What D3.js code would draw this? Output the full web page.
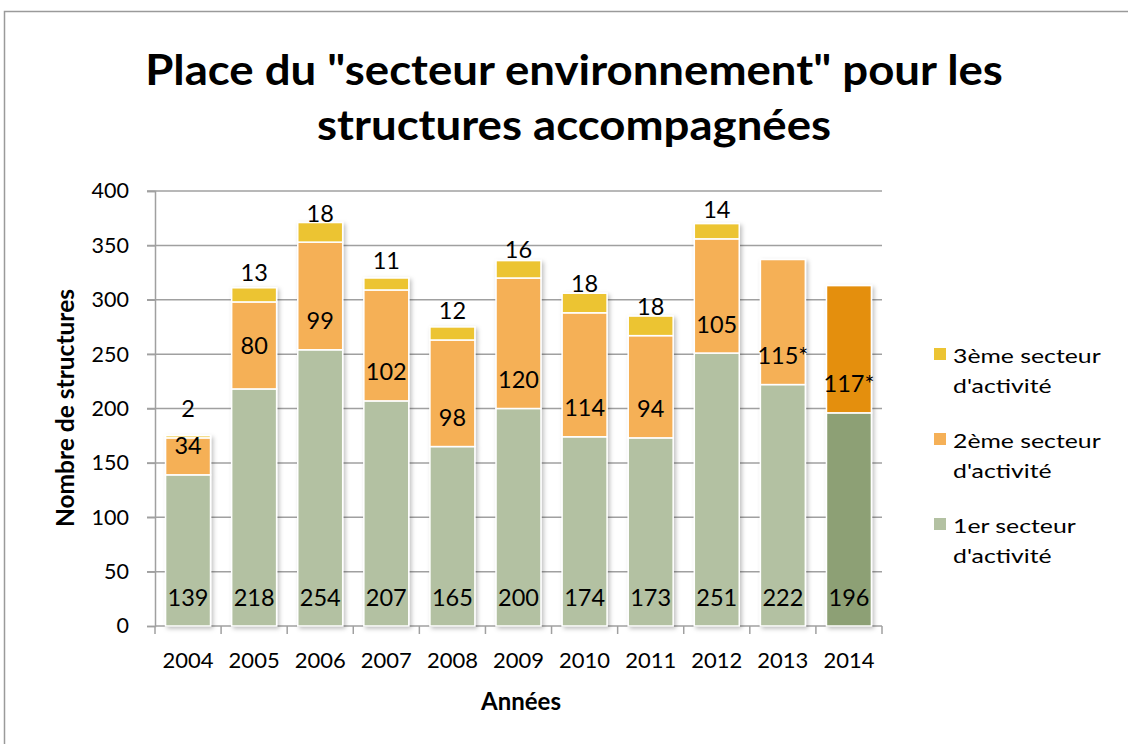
<!DOCTYPE html>
<html>
<head>
<meta charset="utf-8">
<script src="https://cdn.jsdelivr.net/npm/d3@7"></script>
<style>
  body { margin: 0; background: #fff; }
  svg text { font-family: Lato, "Open Sans", sans-serif; fill: #000; }
</style>
</head>
<body>
<div id="maincontainer"></div>
<script>
var years = ["2004", "2005", "2006", "2007", "2008", "2009", "2010", "2011", "2012", "2013", "2014"];
var premier = [139, 218, 254, 207, 165, 200, 174, 173, 251, 222, 196];
var deuxieme = [34, 80, 99, 102, 98, 120, 114, 94, 105, 115, 117];
var troisieme = [2, 13, 18, 11, 12, 16, 18, 18, 14, 0, 0];
var deuxiemeLabels = ["34", "80", "99", "102", "98", "120", "114", "94", "105", "115*", "117*"];
var troisiemeLabels = ["2", "13", "18", "11", "12", "16", "18", "18", "14", "", ""];
var yTicks = [0, 50, 100, 150, 200, 250, 300, 350, 400];
var seriesNames = ["3ème secteur|d'activité", "2ème secteur|d'activité", "1er secteur|d'activité"];

var colors = { g: "#b3c1a2", o: "#f5b057", y: "#ecc433" };
var colorsDark = { g: "#8da074", o: "#e48f0e", y: "#ecc433" };

var width = 1128, height = 744;
var svg = d3.select("#maincontainer")
    .append("svg")
    .attr("width", width)
    .attr("height", height);

// the picture is a bit wider than tall, text gets stretched sideways
function stretch(sel, x, y, sx) {
    return sel.attr("transform", "translate(" + x + "," + y + ") scale(" + sx + ",1)");
}

var defs = svg.append("defs");
var f = defs.append("filter").attr("id", "shadow")
    .attr("x", "-20%").attr("y", "-20%").attr("width", "140%").attr("height", "140%");
f.append("feDropShadow").attr("dx", 2).attr("dy", 2)
    .attr("stdDeviation", 2).attr("flood-color", "#000").attr("flood-opacity", 0.25);

// frame
svg.append("rect")
    .attr("x", 4.5).attr("y", 11.5)
    .attr("width", 1140).attr("height", 760)
    .attr("fill", "none").attr("stroke", "#9a9a9a").attr("stroke-width", 1.5);

// title
var titleLines = ["Place du \"secteur environnement\" pour les", "structures accompagnées"];
titleLines.forEach(function(line, i) {
    stretch(svg.append("text"), 574, 85 + i * 55, 1.085)
        .attr("text-anchor", "middle")
        .style("font-size", "42px")
        .style("font-weight", "bold")
        .text(line);
});

var plotLeft = 155, plotRight = 882, plotTop = 191, plotBottom = 626;

var x = d3.scaleBand().domain(years).range([plotLeft, plotRight]).paddingInner(0.32).paddingOuter(0.16);
var xb = d3.scaleBand().domain(years).range([plotLeft, plotRight]);
var y = d3.scaleLinear().domain([0, 400]).range([plotBottom, plotTop]);

// gridlines
svg.append("g").selectAll("line")
    .data(yTicks.slice(1))
    .enter().append("line")
    .attr("x1", plotLeft - 8).attr("x2", plotRight)
    .attr("y1", function(d) { return y(d); })
    .attr("y2", function(d) { return y(d); })
    .attr("stroke", "#a0a0a0").attr("stroke-width", 1.5);

// y axis
var yAxis = svg.append("g")
    .attr("transform", "translate(" + plotLeft + ",0)")
    .call(d3.axisLeft(y).tickValues(yTicks).tickSize(8).tickPadding(18));
yAxis.select(".domain").attr("stroke", "#a0a0a0").attr("stroke-width", 1.5);
yAxis.selectAll(".tick line").attr("stroke", "#a0a0a0").attr("stroke-width", 1.5);
yAxis.selectAll("text")
    .style("font-size", "21.5px")
    .style("font-family", "Lato, sans-serif")
    .attr("fill", "#000");

// x axis line and ticks
svg.append("line")
    .attr("x1", plotLeft).attr("x2", plotRight)
    .attr("y1", plotBottom).attr("y2", plotBottom)
    .attr("stroke", "#a0a0a0").attr("stroke-width", 1.5);
svg.append("g").selectAll("line")
    .data(years.concat(["end"]))
    .enter().append("line")
    .attr("x1", function(d, i) { return plotLeft + i * xb.step(); })
    .attr("x2", function(d, i) { return plotLeft + i * xb.step(); })
    .attr("y1", plotBottom).attr("y2", plotBottom + 8)
    .attr("stroke", "#a0a0a0").attr("stroke-width", 1.5);
svg.append("g").selectAll("text")
    .data(years)
    .enter().append("text")
    .attr("x", function(d) { return xb(d) + xb.bandwidth() / 2; })
    .attr("y", 668)
    .attr("text-anchor", "middle")
    .style("font-size", "22px")
    .text(function(d) { return d; });

// bars
var rows = years.map(function(yr, i) {
    return { year: yr, g: premier[i], o: deuxieme[i], y: troisieme[i], i: i };
});
var stack = d3.stack().keys(["g", "o", "y"]);
var layers = stack(rows);

var bars = svg.append("g").attr("filter", "url(#shadow)");
layers.forEach(function(layer) {
    bars.selectAll(null)
        .data(layer.filter(function(d) { return d[1] - d[0] > 0; }))
        .enter().append("rect")
        .attr("x", function(d) { return x(d.data.year); })
        .attr("width", x.bandwidth())
        .attr("y", function(d) { return y(d[1]); })
        .attr("height", function(d) { return y(d[0]) - y(d[1]); })
        .attr("fill", function(d) {
            var c = d.data.year == "2014" ? colorsDark : colors;
            return c[layer.key];
        })
        .attr("stroke", "#fff").attr("stroke-width", 1.5);
});

// labels sit near the base of each segment (inside base)
var lab = svg.append("g").style("font-size", "23.5px").attr("text-anchor", "middle");
rows.forEach(function(d) {
    var cx = x(d.year) + x.bandwidth() / 2;
    lab.append("text").attr("x", cx).attr("y", y(0) - 20.5).text(d.g);
    var oy = y(d.g) - 20.5;
    if (d.year == "2005") oy -= 14; // this one was dragged up a bit
    lab.append("text").attr("x", cx).attr("y", oy).text(deuxiemeLabels[d.i]);
    if (troisiemeLabels[d.i] != "") {
        lab.append("text").attr("x", cx).attr("y", y(d.g + d.o) - 20.5).text(troisiemeLabels[d.i]);
    }
});

// axis titles
svg.append("text")
    .attr("transform", "translate(74,408) rotate(-90)")
    .attr("text-anchor", "middle")
    .style("font-size", "24.5px").style("font-weight", "bold")
    .text("Nombre de structures");
svg.append("text")
    .attr("x", 521).attr("y", 710)
    .attr("text-anchor", "middle")
    .style("font-size", "24px").style("font-weight", "bold")
    .text("Années");

// legend
var legColors = [colors.y, colors.o, colors.g];
var leg = svg.append("g");
seriesNames.forEach(function(name, i) {
    var yy = 354 + i * 85;
    leg.append("rect")
        .attr("x", 934).attr("y", yy - 6)
        .attr("width", 12).attr("height", 12)
        .attr("fill", legColors[i]);
    name.split("|").forEach(function(part, j) {
        stretch(leg.append("text"), 953, yy + 9 + j * 30, 1.24)
            .style("font-size", "20px")
            .text(part);
    });
});
</script>
</body>
</html>
